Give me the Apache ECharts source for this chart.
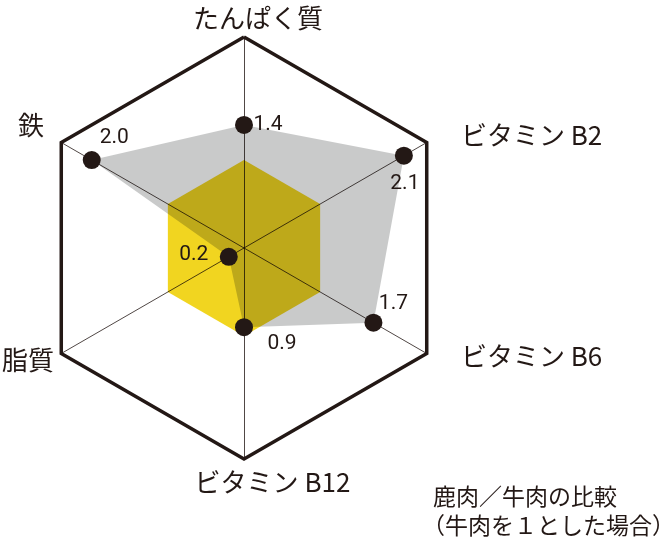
<!DOCTYPE html>
<html><head><meta charset="utf-8">
<script src="https://cdn.jsdelivr.net/npm/echarts@6/dist/echarts.min.js"></script>
<style>html,body{margin:0;padding:0;background:#fff}#c{width:670px;height:538px}</style>
</head><body><div id="c"></div>
<script>
// ---- data ----
const indicatorNames = ['たんぱく質', '鉄', '脂質', 'ビタミン B12', 'ビタミン B6', 'ビタミン B2'];
const venison = [1.4, 2.0, 0.2, 0.9, 1.7, 2.1];   // 鹿肉 (beef = 1)
const beef = [1, 1, 1, 1, 1, 1];                  // 牛肉
const axisMax = 2.4;
const captionLines = ['鹿肉／牛肉の比較', '（牛肉を１とした場合）'];

// ---- style ----
const INK = '#231815';
const YELLOW = '#f1d520';
const GRAY = '#c9caca';
const JP = '"Noto Sans CJK JP", "Noto Sans", sans-serif';
const NUM = '"Liberation Sans Narrow", Roboto, sans-serif';
// name paddings [top,right,bottom,left] per indicator (fine placement)
const namePad = [[0,0,0,28],[0,12,29,0],[7,2,0,0],[4,0,0,57],[0,0,0,29],[0,0,9,29]];
// value label shift from dot centre [dx,dy]
const labelShift = [[24,0],[22.5,-22.5],[-35,-2],[38,17],[20,-19],[1,28]];

const nameRich = {};
namePad.forEach((p, i) => {
  nameRich['n' + i] = { padding: p, fontSize: 26, fontFamily: JP, color: INK };
});
const valueRich = {};
labelShift.forEach((s, i) => {
  const dx = s[0], dy = s[1];
  valueRich['v' + i] = {
    padding: [dy > 0 ? 2 * dy : 0, dx < 0 ? -2 * dx : 0, dy < 0 ? -2 * dy : 0, dx > 0 ? 2 * dx : 0],
    fontSize: 21, fontFamily: NUM, color: INK
  };
});

const chart = echarts.init(document.getElementById('c'), null, { renderer: 'canvas' });
chart.setOption({
  animation: false,
  backgroundColor: '#ffffff',
  title: [
    { text: captionLines[0], left: 433, top: 485, padding: 0,
      textStyle: { fontFamily: JP, fontSize: 23, fontWeight: 'normal', color: INK } },
    { text: captionLines[1], left: 422, top: 514, padding: 0,
      textStyle: { fontFamily: JP, fontSize: 23, fontWeight: 'normal', color: INK } }
  ],
  radar: {
    center: [244, 248],
    radius: 211,
    startAngle: 90,
    shape: 'polygon',
    splitNumber: 1,
    nameGap: 6,
    indicator: indicatorNames.map(n => ({ name: n, min: 0, max: axisMax })),
    axisName: {
      formatter: (name) => '{n' + indicatorNames.indexOf(name) + '|' + name + '}',
      rich: nameRich, color: INK, fontSize: 26, fontFamily: JP
    },
    splitLine: { lineStyle: { color: INK, width: 3.5 } },
    splitArea: { show: false },
    axisLine: { lineStyle: { color: INK, width: 0.8 } },
    axisTick: { show: false },
    axisLabel: { show: false }
  },
  series: [
    {
      type: 'radar', silent: true,
      symbol: 'none',
      lineStyle: { width: 0, opacity: 0 },
      areaStyle: { color: YELLOW, opacity: 1 },
      data: [{ value: beef, name: '牛肉' }]
    },
    {
      type: 'radar', silent: true,
      symbol: 'circle', symbolSize: 18,
      itemStyle: { color: INK },
      lineStyle: { width: 0, opacity: 0 },
      areaStyle: { color: GRAY, opacity: 1 },
      label: {
        show: true, position: 'inside',
        formatter: (p) => {
          let i = p.dimensionIndex;
          if (i == null) i = venison.indexOf(p.value);
          return '{v' + i + '|' + venison[i].toFixed(1) + '}';
        },
        rich: valueRich
      },
      data: [{ value: venison, name: '鹿肉' }]
    }
  ]
});

function applyBlend() {
  const zr = chart.getZr();
  zr.storage.getDisplayList(true).forEach(el => {
    if (el.type === 'polygon' && el.style) {
      const f = String(el.style.fill).toLowerCase();
      if (f === YELLOW || f === GRAY) {
        el.style.blend = 'multiply';
        el.markRedraw && el.markRedraw();
      }
    }
  });
  zr.refreshImmediately();
}
applyBlend();
chart.on('finished', () => { if (!window.__blended) { window.__blended = true; applyBlend(); } });
</script>
</body></html>
